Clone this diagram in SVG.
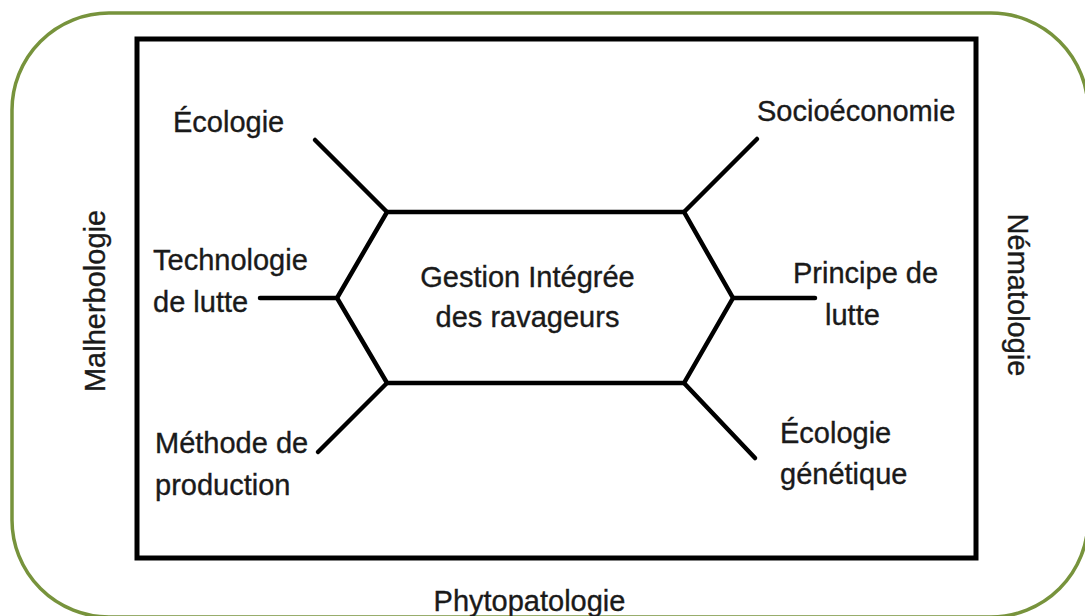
<svg xmlns="http://www.w3.org/2000/svg" width="1085" height="616" viewBox="0 0 1085 616">
<style>
.lbl{font-family:"Liberation Sans",Arial,sans-serif;font-size:29px;fill:#1a1a1a;stroke:#1a1a1a;stroke-width:0.35}
.ln{stroke:#000;stroke-width:4.5;stroke-linecap:round;stroke-linejoin:miter;fill:none}
</style>
<rect width="1085" height="616" fill="#ffffff"/>
<rect x="12" y="13" width="1076" height="604" rx="97" ry="97" fill="none" stroke="#77933c" stroke-width="3.5"/>
<rect id="frame" x="137" y="39" width="839" height="519" fill="none" stroke="#000" stroke-width="5"/>
<g id="connectors">
<line class="ln" x1="315" y1="140" x2="387" y2="212"/>
<line class="ln" x1="684" y1="212" x2="757" y2="139"/>
<line class="ln" x1="387" y1="383" x2="318" y2="452"/>
<line class="ln" x1="684" y1="383" x2="755" y2="458"/>
<line class="ln" x1="260" y1="298" x2="337" y2="298"/>
<line class="ln" x1="733" y1="298" x2="815" y2="298"/>
</g>
<g id="center">
<polygon class="ln" points="387,212 684,212 733,298 684,383 387,383 337,298"/>
<text class="lbl" x="527.5" y="287" text-anchor="middle">Gestion Intégrée</text>
<text class="lbl" x="527.5" y="327" text-anchor="middle">des ravageurs</text>
</g>
<g id="ecologie"><text class="lbl" x="173" y="132">Écologie</text></g>
<g id="technologie"><text class="lbl" x="153" y="270">Technologie</text><text class="lbl" x="153" y="312">de lutte</text></g>
<g id="methode"><text class="lbl" x="155" y="453">Méthode de</text><text class="lbl" x="155" y="495">production</text></g>
<g id="socio"><text class="lbl" x="757" y="121">Socioéconomie</text></g>
<g id="principe"><text class="lbl" x="793" y="283">Principe de</text><text class="lbl" x="825" y="325">lutte</text></g>
<g id="ecogen"><text class="lbl" x="780" y="443">Écologie</text><text class="lbl" x="780" y="484">génétique</text></g>
<g id="malherbologie"><text class="lbl" transform="translate(105,301) rotate(-90)" text-anchor="middle">Malherbologie</text></g>
<g id="nematologie"><text class="lbl" transform="translate(1008,295) rotate(90)" text-anchor="middle">Nématologie</text></g>
<g id="phytopatologie"><text class="lbl" x="529.5" y="611" text-anchor="middle">Phytopatologie</text></g>
</svg>
